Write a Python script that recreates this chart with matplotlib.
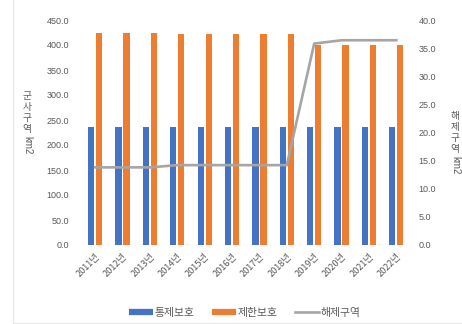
import matplotlib
matplotlib.use('Agg')
import matplotlib.pyplot as plt
from matplotlib.lines import Line2D
import numpy as np

# 연도별 군사시설 보호구역 현황
years = ['2011년', '2012년', '2013년', '2014년', '2015년', '2016년',
         '2017년', '2018년', '2019년', '2020년', '2021년', '2022년']
control = [237.0, 237.0, 237.0, 237.0, 237.0, 237.0,
           237.0, 237.0, 237.0, 237.0, 237.0, 237.0]      # 통제보호 (km2)
restrict = [424.0, 424.0, 424.0, 423.0, 423.0, 423.0,
            423.0, 423.0, 401.0, 401.0, 401.0, 401.0]     # 제한보호 (km2)
release = [13.8, 13.8, 13.8, 14.2, 14.2, 14.2,
           14.2, 14.2, 35.8, 36.4, 36.4, 36.4]            # 해제구역 (km2)
left_ticks = np.arange(0, 451, 50)
right_ticks = np.arange(0, 41, 5)

BLUE = '#4472C4'
ORANGE = '#ED7D31'
GRAY = '#A5A5A5'
TXT = '#595959'
KR = ['Noto Sans CJK KR', 'DejaVu Sans']
NUM = ['Liberation Sans', 'DejaVu Sans']

W, H = 462, 324
fig = plt.figure(figsize=(W / 100, H / 100), dpi=100)
ax = fig.add_axes([81.5 / W, 1 - 245 / H, (410 - 81.5) / W, 225 / H])
ax2 = ax.twinx()

x = np.arange(len(years))
ax.bar(x - 0.145, control, width=0.23, color=BLUE, zorder=2)
ax.bar(x + 0.145, restrict, width=0.23, color=ORANGE, zorder=2)
ax2.plot(x, release, color=GRAY, lw=1.9, zorder=3)

ax.set_xlim(-0.5, len(years) - 0.5)
ax.set_ylim(0, 450)
ax2.set_ylim(0, 40)
ax.set_yticks(left_ticks)
ax.set_yticklabels([f'{v:.1f}' for v in left_ticks], family=NUM,
                   fontsize=6.5, color=TXT)
ax2.set_yticks(right_ticks)
ax2.set_yticklabels([f'{v:.1f}' for v in right_ticks], family=NUM,
                    fontsize=6.5, color=TXT)
ax.set_xticks(x)
ax.set_xticklabels(years, rotation=45, ha='right', rotation_mode='anchor',
                   family=KR, fontsize=6.6, color=TXT)
ax.tick_params(axis='y', length=0, pad=9)
ax2.tick_params(axis='y', length=0, pad=6)
ax.tick_params(axis='x', length=0, pad=5)

for a in (ax, ax2):
    for s in a.spines.values():
        s.set_visible(False)
ax.axhline(0, color='#D9D9D9', lw=0.9, zorder=1)
ax.patch.set_visible(False)
ax2.patch.set_visible(False)


def stacked_label(xp, ytop, chars, tail):
    # 한글은 세워서 한 글자씩, 단위는 눕혀서 아래에
    for i, ch in enumerate(chars):
        fig.text(xp / W, 1 - (ytop + 11 * i) / H, ch, family=KR,
                 fontsize=7, color=TXT, ha='center', va='center')
    fig.text(xp / W, 1 - (ytop + 11 * (len(chars) - 1) + 7) / H, tail,
             family=NUM, fontsize=7, color=TXT, rotation=270,
             ha='center', va='top')


stacked_label(27, 96, '군사구역', 'km2')
stacked_label(455, 116, '해제구역', 'km2')

handles = [Line2D([], [], color=BLUE, lw=4.5, solid_capstyle='butt'),
           Line2D([], [], color=ORANGE, lw=4.5, solid_capstyle='butt'),
           Line2D([], [], color=GRAY, lw=1.9)]
fig.legend(handles, ['통제보호', '제한보호', '해제구역'],
           loc='center', bbox_to_anchor=(245 / W, 1 - 313 / H), ncol=3,
           frameon=False, prop={'family': KR, 'size': 7.8},
           labelcolor=TXT, handlelength=2.2, handletextpad=0.15,
           columnspacing=1.6)

# 차트 영역 테두리
fig.add_artist(Line2D([12.5 / W, 12.5 / W], [0, 1], color='#E6E6E6', lw=0.8))
fig.add_artist(Line2D([12.5 / W, 1], [1 - 322.5 / H, 1 - 322.5 / H],
                      color='#E6E6E6', lw=0.8))

fig.savefig('out.png', dpi=100)
